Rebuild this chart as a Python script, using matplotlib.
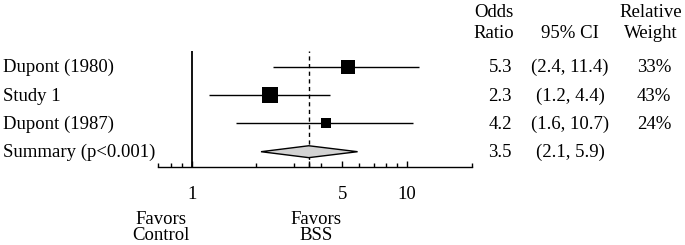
import matplotlib
matplotlib.use("Agg")
import matplotlib.pyplot as plt
import matplotlib.transforms as mtransforms
from matplotlib.patches import Polygon

# data
studies = ["Dupont (1980)", "Study 1", "Dupont (1987)"]
odds = [5.3, 2.3, 4.2]
ci_low = [2.4, 1.2, 1.6]
ci_high = [11.4, 4.4, 10.7]
weights = [33, 43, 24]

summary_label = "Summary (p<0.001)"
summary_or = 3.5
summary_low = 2.1
summary_high = 5.9

major_ticks = [1, 3.5, 5, 10]
major_labels = ["1", "", "5", "10"]
minor_ticks = [0.7, 0.8, 0.9, 2, 3, 4, 6, 7, 8, 9, 20]

plt.rcParams["font.family"] = ["Liberation Serif", "DejaVu Serif"]
FS = 13.5
W, H = 685, 245

fig = plt.figure(figsize=(W / 100, H / 100), dpi=100)
# axes placed in pixel terms: x from 0.7 to 20, axis line at y=167
ax_top, ax_bot = 50.7, 167
ax = fig.add_axes([158.3 / W, 1 - ax_bot / H, (471.7 - 158.3) / W, (ax_bot - ax_top) / H])
ax.set_xscale("log")
ax.set_xlim(0.7, 20)
ax.set_ylim(0.46, 4.565)

rows = [4, 3, 2]
for y, o, lo, hi, w in zip(rows, odds, ci_low, ci_high, weights):
    ax.plot([lo, hi], [y, y], color="black", lw=1.0, solid_capstyle="butt", zorder=3)
    side_px = 4 + 0.28 * w
    ax.plot([o], [y], marker="s", ms=side_px * 0.72, color="black", mec="black",
            mew=0, zorder=4)

# summary diamond
ys = 1
h = 0.21
ax.add_patch(Polygon([(summary_low, ys), (summary_or, ys + h), (summary_high, ys),
                      (summary_or, ys - h)], closed=True, facecolor="#d3d3d3",
                     edgecolor="black", lw=1.0, zorder=3))

ax.axvline(1, color="black", lw=1.3, zorder=2)
ax.axvline(summary_or, color="black", lw=1.0, linestyle=(0, (3, 2.5)), zorder=2)

for s in ["top", "right", "left"]:
    ax.spines[s].set_visible(False)
ax.spines["bottom"].set_linewidth(1.0)
ax.set_yticks([])
ax.set_xticks(major_ticks)
ax.set_xticklabels(major_labels)
ax.set_xticks(minor_ticks, minor=True)
ax.xaxis.set_minor_formatter(matplotlib.ticker.NullFormatter())
ax.tick_params(axis="x", which="major", direction="in", length=4, width=1,
               pad=14, labelsize=FS)
ax.tick_params(axis="x", which="minor", direction="in", length=3, width=1)

# text columns: x in figure pixels, y in data rows (baseline a little below row)
tr = mtransforms.blended_transform_factory(fig.transFigure, ax.transData)
base_off = 5.5 / 28.33
labels = studies + [summary_label]
all_rows = rows + [ys]
or_txt = [f"{o:.1f}" for o in odds] + [f"{summary_or:.1f}"]
ci_txt = [f"({lo:.1f}, {hi:.1f})" for lo, hi in zip(ci_low, ci_high)] + \
         [f"({summary_low:.1f}, {summary_high:.1f})"]
w_txt = [f"{w}%" for w in weights] + [""]
for y, lab, a, b, c in zip(all_rows, labels, or_txt, ci_txt, w_txt):
    yb = y - base_off
    ax.text(3 / W, yb, lab, transform=tr, ha="left", va="baseline", fontsize=FS)
    ax.text(512 / W, yb, a, transform=tr, ha="right", va="baseline", fontsize=FS)
    ax.text(570 / W, yb, b, transform=tr, ha="center", va="baseline", fontsize=FS)
    ax.text(654 / W, yb, c, transform=tr, ha="center", va="baseline", fontsize=FS)


def ftext(xpx, ypx, s, **kw):
    fig.text(xpx / W, 1 - ypx / H, s, fontsize=FS, va="baseline", **kw)


# column headers
ftext(494, 17, "Odds", ha="center")
ftext(494, 38, "Ratio", ha="center")
ftext(570, 38, "95% CI", ha="center")
ftext(651, 17, "Relative", ha="center")
ftext(651, 38, "Weight", ha="center")

# favours labels
ftext(161, 224, "Favors", ha="center")
ftext(161, 240, "Control", ha="center")
ftext(316, 224, "Favors", ha="center")
ftext(316, 240, "BSS", ha="center")

fig.savefig("out.png", dpi=100)
